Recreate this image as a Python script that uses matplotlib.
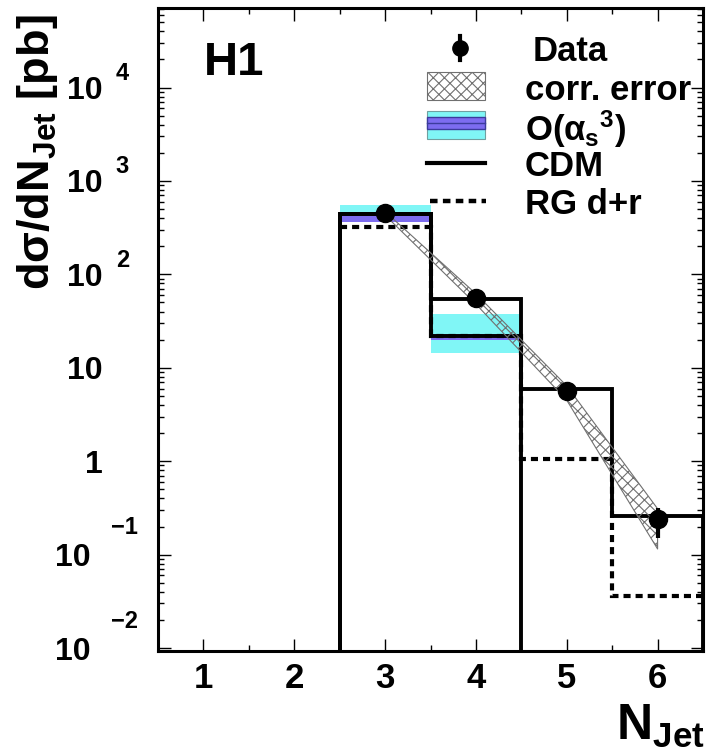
import matplotlib
matplotlib.use("Agg")
import matplotlib.pyplot as plt
import numpy as np
from matplotlib.patches import Rectangle
from matplotlib.lines import Line2D
from matplotlib.transforms import blended_transform_factory

plt.rcParams['font.family'] = ['Liberation Sans', 'DejaVu Sans']
plt.rcParams['font.weight'] = 'bold'
plt.rcParams['mathtext.fontset'] = 'custom'
plt.rcParams['mathtext.rm'] = 'Liberation Sans:bold'
plt.rcParams['mathtext.bf'] = 'Liberation Sans:bold'
plt.rcParams['mathtext.it'] = 'Liberation Sans:bold'
plt.rcParams['mathtext.sf'] = 'Liberation Sans:bold'
plt.rcParams['hatch.linewidth'] = 0.8

# ---------------- data ----------------
edges = [2.5, 3.5, 4.5, 5.5, 6.5]
njet = [3, 4, 5, 6]
data_y = [450, 55.5, 5.7, 0.24]
data_err_lo = [30, 4, 0.4, 0.09]
data_err_hi = [30, 4, 0.4, 0.075]

corr_upper = [470, 62, 6.4, 0.31]
corr_lower = [430, 48, 4.5, 0.115]

cdm = [440, 55, 6.0, 0.26]
rg = [320, 22, 1.05, 0.036]

nlo_edges = [2.5, 3.5, 4.5]
nlo_central = [440, 22]
nlo_band_lo = [363, 14.3]
nlo_band_hi = [552, 38]
nlo_inner_lo = [365, 20]
nlo_inner_hi = [425, 23]

xticks = [1, 2, 3, 4, 5, 6]
ytick_vals = [1e-2, 1e-1, 1, 10, 1e2, 1e3, 1e4]
ytick_base = ['10', '10', '1', '10', '10', '10', '10']
ytick_exp = ['\u22122', '\u22121', '', '', '2', '3', '4']

legend_labels = ['Data', 'corr. error', r'O($\alpha_{s}{}^{3}$)', 'CDM', 'RG d+r']

# ---------------- figure ----------------
W, H = 709, 753
fig = plt.figure(figsize=(W / 100, H / 100), dpi=100)
ax = fig.add_axes([158 / W, 1 - 651 / H, (703 - 158) / W, (651 - 8) / H])

def P(x, y):
    return (x / W, 1 - y / H)

CYAN = '#80f6f6'
BLUE = '#7d6cf0'
DBLUE = '#3c3c9c'
HATCH = '#707070'

# NLO bands
ax.stairs(nlo_band_hi, nlo_edges, baseline=nlo_band_lo, fill=True, color=CYAN, zorder=1)
ax.stairs(nlo_inner_hi, nlo_edges, baseline=nlo_inner_lo, fill=True, color=BLUE, zorder=1.5)

# NLO central outline (down to the bottom at the ends)
ax.stairs(nlo_central, nlo_edges, baseline=1e-4, color='black', lw=2.8, zorder=3)
# CDM
ax.stairs(cdm, edges, baseline=1e-4, color='black', lw=2.8, zorder=3)
# RG d+r
ax.stairs(rg, edges, baseline=None, color='black', lw=3.0, linestyle=(0, (1.7, 1.2)), zorder=2.5)

# corr error hatched band
ax.fill_between(njet, corr_lower, corr_upper, facecolor='none', edgecolor=HATCH,
                hatch='xxx', lw=0.8, zorder=4)

# data
ax.errorbar(njet, data_y, yerr=[data_err_lo, data_err_hi], fmt='o', color='black',
            markersize=13, elinewidth=3, capsize=0, zorder=6)

ax.set_yscale('log')
ax.set_xlim(0.5, 6.5)
ax.set_ylim(0.0093, 7.1e4)

ax.set_xticks(xticks)
ax.set_xticks([1.5, 2.5, 3.5, 4.5, 5.5], minor=True)
ax.set_xticklabels([str(v) for v in xticks], fontsize=25, fontweight='bold')
ax.set_yticks(ytick_vals)
ax.set_yticklabels([])
ax.yaxis.set_minor_locator(matplotlib.ticker.LogLocator(base=10, subs=np.arange(2, 10), numticks=20))
ax.yaxis.set_minor_formatter(matplotlib.ticker.NullFormatter())

ax.tick_params(which='both', direction='in', top=True, right=True, width=1.0)
ax.tick_params(which='major', length=9)
ax.tick_params(which='minor', length=4.5)
ax.tick_params(axis='x', which='major', pad=8)
for s in ax.spines.values():
    s.set_linewidth(2.2)

# y tick labels in ROOT style (base + raised exponent)
bt = blended_transform_factory(fig.transFigure, ax.transData)
for val, base, ex in zip(ytick_vals, ytick_base, ytick_exp):
    if ex == '':
        ax.text(103 / W, val, base, transform=bt, ha='right', va='center_baseline',
                fontsize=23, fontweight='bold')
    elif ex.startswith('\u2212'):
        ax.text(91 / W, val, base, transform=bt, ha='right', va='center_baseline',
                fontsize=23, fontweight='bold')
        ax.annotate(ex, xy=(138 / W, val), xycoords=bt, xytext=(0, 21),
                    textcoords='offset points', ha='right', va='center_baseline',
                    fontsize=17, fontweight='bold')
    else:
        ax.text(103 / W, val, base, transform=bt, ha='right', va='center_baseline',
                fontsize=23, fontweight='bold')
        ax.annotate(ex, xy=(129 / W, val), xycoords=bt, xytext=(0, 12),
                    textcoords='offset points', ha='right', va='center_baseline',
                    fontsize=17, fontweight='bold')

# axis titles
fig.text(38 / W, 1 - 14 / H, r'd$\sigma$/dN$_{\mathrm{Jet}}$ [pb]', rotation=90,
         ha='center', va='top', fontsize=32.5, fontweight='bold')
fig.text(705 / W, 1 - 750 / H, r'N$_{\mathrm{Jet}}$', ha='right', va='bottom',
         fontsize=36, fontweight='bold')

# H1 label
fig.text(*P(204, 63), 'H1', ha='left', va='center', fontsize=34, fontweight='bold')

# ---------------- legend ----------------
tf = fig.transFigure
fig.add_artist(Line2D([460 / W, 460 / W], [1 - 36 / H, 1 - 60 / H], color='black', lw=3, transform=tf))
fig.add_artist(Line2D([460 / W], [1 - 48 / H], color='black', marker='o', markersize=11,
                      linestyle='none', transform=tf))
fig.add_artist(Rectangle(P(427, 100), 58 / W, 28 / H, transform=tf, facecolor='white',
                         edgecolor=HATCH, hatch='xxx', lw=0.8))
fig.add_artist(Rectangle(P(427, 139), 58 / W, 28 / H, transform=tf, facecolor=CYAN,
                         edgecolor='#70a0a0', lw=0.8))
fig.add_artist(Rectangle(P(427, 129), 58 / W, 12 / H, transform=tf, facecolor=BLUE,
                         edgecolor=DBLUE, lw=1.0))
fig.add_artist(Line2D([427 / W, 485 / W], [1 - 123 / H, 1 - 123 / H], color=DBLUE, lw=1.0, transform=tf))
fig.add_artist(Line2D([427 / W, 485 / W], [1 - 163 / H, 1 - 163 / H], color='black', lw=3, transform=tf))
fig.add_artist(Line2D([430 / W, 486 / W], [1 - 201 / H, 1 - 201 / H], color='black', lw=3.2,
                      linestyle=(0, (1.7, 1.2)), transform=tf))

leg_pos = [(533, 48), (525, 87), (525, 125), (525, 163), (525, 201)]
for (lx, ly), lab in zip(leg_pos, legend_labels):
    fig.text(*P(lx, ly), lab, ha='left', va='center_baseline', fontsize=25, fontweight='bold')

fig.savefig('out.png', dpi=100)
